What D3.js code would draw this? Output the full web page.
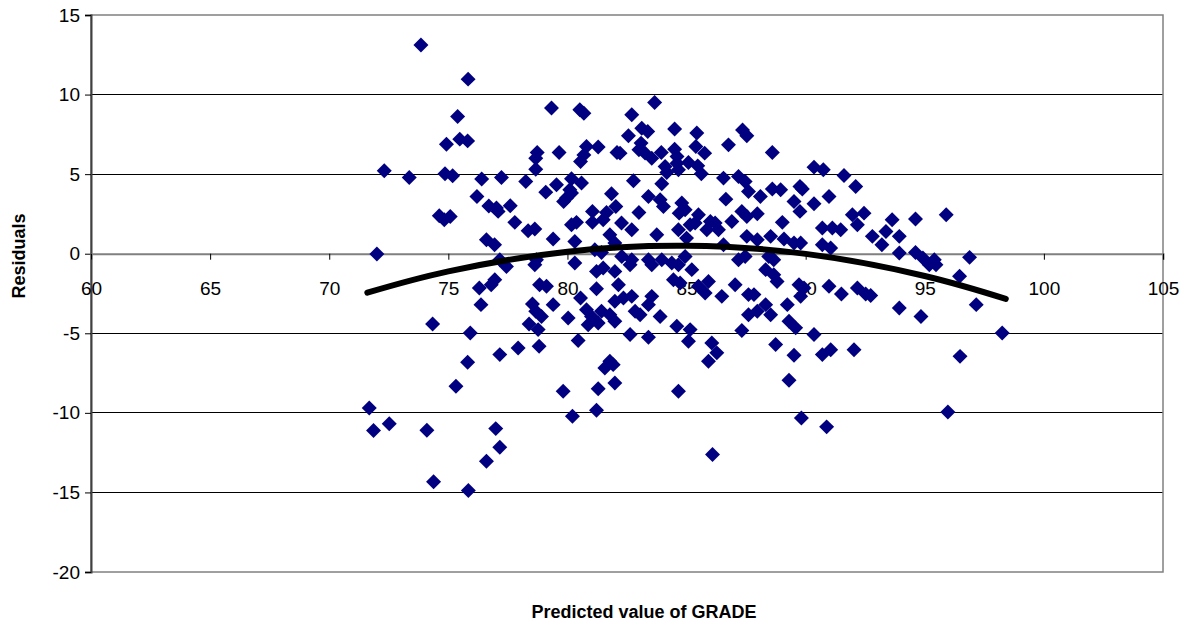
<!DOCTYPE html>
<html><head><meta charset="utf-8">
<script src="https://cdn.jsdelivr.net/npm/d3@7"></script>
<style>body{margin:0;background:#fff} svg{display:block;font-family:Arial,"Liberation Sans",sans-serif}</style>
</head><body><svg id="c" width="1193" height="627"></svg>
<script>
const gradeX = [
73.85,75.83,75.39,74.92,75.48,75.81,72.31,73.36,74.86,75.18,76.4,76.2,74.62,74.83,75.08,72.0,
79.33,80.52,80.69,78.73,78.67,79.65,80.8,81.29,80.69,80.55,82.08,78.67,77.23,78.25,79.54,79.09,80.17,80.1,80.59,79.96,79.84,80.17,81.85,76.7,77.02,77.09,77.6,77.79,78.35,78.63,81.05,81.64,81.5,82.03,80.17,80.38,81.05,79.4,80.31,76.6,76.94,81.78,81.99,81.15,81.43,77.16,78.7,80.31,
83.66,82.7,83.12,83.37,82.56,84.5,85.43,86.76,87.35,87.53,82.21,83.09,83.0,83.26,83.54,83.94,84.5,84.6,85.39,85.76,84.1,84.17,84.6,85.08,85.47,85.62,84.66,82.77,83.96,86.55,87.18,87.46,87.6,83.4,83.89,84.03,84.8,84.69,84.94,86.65,82.27,83.0,85.5,85.36,85.15,86.0,86.2,85.85,86.34,86.9,87.32,87.53,82.7,83.75,84.66,85.0,87.53,86.55,82.28,82.7,83.4,83.96,84.38,84.94,87.18,87.46,
88.6,90.35,90.74,91.61,92.1,88.6,88.95,88.1,89.76,89.86,90.98,89.51,89.76,90.35,87.97,89.02,91.96,92.45,92.17,90.7,91.12,91.47,92.8,88.53,89.09,89.51,89.79,87.97,90.7,91.05,93.2,88.45,88.66,
95.9,93.63,94.61,93.37,93.93,93.93,94.61,94.92,95.4,96.88,
76.3,76.37,74.34,75.92,75.81,75.32,71.68,71.86,72.52,74.1,76.6,74.38,75.84,
76.95,76.8,78.83,79.12,78.53,78.67,78.91,78.39,78.77,79.4,80.03,80.55,81.22,80.8,81.01,80.87,81.29,81.43,81.78,81.99,81.99,77.16,77.93,78.81,80.45,79.82,80.21,81.29,81.22,81.78,81.57,81.92,81.99,76.99,77.16,77.44,78.63,81.22,81.5,81.99,
84.45,84.73,85.5,85.92,85.78,87.04,86.48,87.6,82.14,82.35,82.7,82.84,83.05,83.4,83.54,83.89,84.59,82.63,83.4,85.15,85.08,87.32,87.6,86.06,86.27,85.92,84.66,86.09,82.63,83.54,84.66,85.22,
87.83,87.97,88.32,88.53,89.23,89.79,89.72,89.93,90.98,91.5,92.17,92.52,92.73,89.3,89.58,90.35,88.74,89.51,90.7,91.05,92.03,89.3,89.82,90.88,88.32,88.66,88.8,
93.93,94.84,96.46,97.16,98.25,96.48,95.97,95.19,95.47
];
const residualY = [
13.12,10.97,8.62,6.88,7.2,7.09,5.21,4.79,5.02,4.9,4.69,3.6,2.39,2.13,2.34,-0.02,
9.15,9.04,8.83,6.36,6.0,6.36,6.74,6.7,6.21,5.79,6.36,5.31,4.79,4.54,4.33,3.87,4.71,4.02,4.44,3.5,3.28,3.81,3.77,3.0,2.87,2.66,3.01,1.97,1.44,1.55,2.66,2.59,2.13,2.97,1.82,1.97,1.97,0.92,0.77,0.88,0.56,1.19,0.67,0.25,0.08,-0.38,-0.38,-0.58,
9.5,8.73,7.89,7.68,7.41,7.83,7.58,6.84,7.78,7.41,6.32,6.95,6.53,6.32,6.0,6.36,6.57,6.11,6.74,6.32,5.48,5.1,5.69,5.73,5.52,5.02,5.27,4.58,4.39,4.75,4.85,4.54,3.91,3.6,3.39,2.97,3.18,2.55,2.76,3.43,1.93,2.59,2.45,1.93,1.82,2.03,1.93,1.51,1.51,2.03,2.66,2.34,1.51,1.19,1.51,0.98,1.09,0.56,-0.17,-0.38,-0.38,-0.38,-0.59,-0.17,-0.38,-0.17,
6.36,5.44,5.27,4.92,4.23,4.06,4.02,3.6,4.23,4.06,3.6,3.28,2.66,3.14,2.51,1.97,2.45,2.55,1.82,1.61,1.61,1.51,1.09,1.09,0.92,0.67,0.67,0.88,0.56,0.36,0.56,-0.17,-0.38,
2.45,2.13,2.18,1.4,1.09,0.04,0.08,-0.27,-0.38,-0.23,
-2.15,-3.2,-4.41,-4.98,-6.82,-8.33,-9.69,-11.11,-10.69,-11.09,-13.04,-14.33,-14.88,
-1.63,-1.95,-1.95,-2.05,-3.16,-3.62,-3.94,-4.41,-4.77,-3.2,-4.04,-2.78,-2.2,-3.52,-3.94,-4.46,-4.35,-3.62,-3.83,-4.25,-2.99,-6.34,-5.92,-5.82,-5.46,-8.64,-10.21,-8.49,-9.84,-6.76,-7.18,-6.97,-8.12,-10.99,-12.16,-0.8,-0.69,-1.11,-0.9,-1.11,
-1.63,-1.84,-2.05,-1.74,-2.47,-1.95,-2.68,-2.57,-1.95,-2.78,-2.68,-3.62,-3.83,-3.2,-2.68,-3.94,-4.56,-5.08,-5.25,-4.77,-5.5,-4.83,-3.83,-5.61,-6.23,-6.76,-8.64,-12.62,-0.69,-0.69,-0.69,-1.0,
-2.57,-3.62,-3.2,-3.83,-3.2,-2.68,-1.95,-2.15,-2.05,-2.53,-2.15,-2.53,-2.62,-4.25,-4.66,-5.08,-5.71,-6.38,-6.34,-6.03,-6.03,-7.95,-10.32,-10.88,-1.0,-1.32,-1.74,
-3.41,-3.94,-1.42,-3.2,-4.98,-6.45,-9.94,-0.69,-0.69
];
const trendX = [71.6,75,80,85,90,95,98.4];
const trendY = [-2.45,-1.11,0.13,0.5,-0.01,-1.4,-2.84];
const xTicks = [60,65,70,75,80,85,90,95,100,105];
const yTicks = [-20,-15,-10,-5,0,5,10,15];
const gridVals = [-15,-10,-5,5,10];
const xTitle = "Predicted value of GRADE";
const yTitle = "Residuals";

const svg = d3.select("#c");
const L = 91, R = 1163, T = 15, B = 572;
const x = d3.scaleLinear().domain([60,105]).range([L,R]);
const y = d3.scaleLinear().domain([-20,15]).range([B,T]);
const fmt = d => String(d);

svg.append("g").selectAll("line").data(gridVals).join("line")
  .attr("x1",L).attr("x2",R).attr("y1",d=>y(d)).attr("y2",d=>y(d))
  .attr("stroke","#000").attr("stroke-width",1).attr("shape-rendering","crispEdges");
svg.append("rect").attr("x",L).attr("y",T).attr("width",R-L).attr("height",B-T)
  .attr("fill","none").attr("stroke","#808080").attr("stroke-width",1.5);

const ya = svg.append("g").attr("transform",`translate(${L},0)`)
  .call(d3.axisLeft(y).tickValues(yTicks).tickSize(6).tickPadding(5).tickFormat(fmt));
ya.select(".domain").attr("stroke","#404040").attr("stroke-width",2);
ya.selectAll(".tick line").attr("stroke","#000");
ya.selectAll("text").attr("font-size",19).attr("fill","#000").attr("font-family","Arial, 'Liberation Sans', sans-serif");

const xa = svg.append("g").attr("transform",`translate(0,${y(0)})`)
  .call(d3.axisBottom(x).tickValues(xTicks).tickSize(6).tickPadding(22).tickFormat(fmt));
xa.select(".domain").attr("stroke","#808080").attr("stroke-width",2);
xa.selectAll(".tick line").attr("stroke","#000");
xa.selectAll("text").attr("font-size",19).attr("fill","#000").attr("font-family","Arial, 'Liberation Sans', sans-serif");

const pts = gradeX.map((g,i)=>({g, r: residualY[i]}));
const sym = d3.symbol().type(d3.symbolSquare).size(112);
svg.append("g").selectAll("path").data(pts).join("path")
  .attr("d", sym)
  .attr("transform", d=>`translate(${x(d.g)},${y(d.r)}) rotate(45)`)
  .attr("fill","#000080");

const tr = trendX.map((t,i)=>[t,trendY[i]]);
svg.append("path").datum(tr)
  .attr("d", d3.line().x(d=>x(d[0])).y(d=>y(d[1])).curve(d3.curveNatural))
  .attr("fill","none").attr("stroke","#000").attr("stroke-width",6).attr("stroke-linecap","round");

svg.append("text").attr("x",644).attr("y",618).attr("text-anchor","middle")
  .attr("font-size",18).attr("font-weight","bold").text(xTitle);
svg.append("text").attr("transform",`translate(25,256) rotate(-90)`).attr("text-anchor","middle")
  .attr("font-size",18).attr("font-weight","bold").text(yTitle);
</script></body></html>
